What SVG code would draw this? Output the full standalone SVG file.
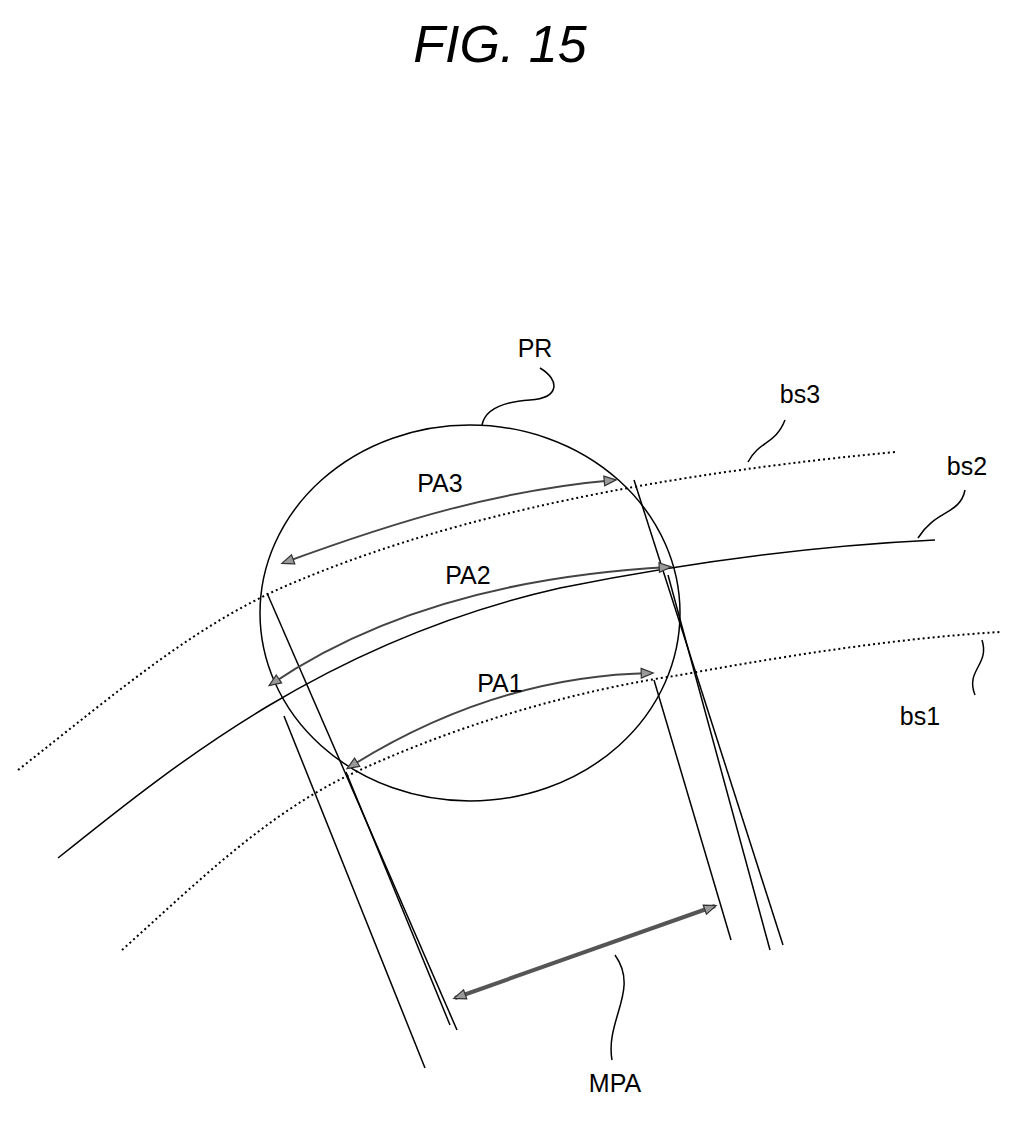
<svg xmlns="http://www.w3.org/2000/svg" width="1020" height="1141" viewBox="0 0 1020 1141">
<defs>
<style>
.l{fill:none;stroke:#000;stroke-width:1.5}
.d{fill:none;stroke:#000;stroke-width:2;stroke-dasharray:2 3}
.a{fill:none;stroke:#444;stroke-width:2}
.t{font-family:"Liberation Sans",Arial,sans-serif;font-size:25px;fill:#000}
</style>
<marker id="ah" viewBox="0 0 10 10" refX="9" refY="5" markerWidth="16" markerHeight="12" markerUnits="userSpaceOnUse" orient="auto-start-reverse"><path d="M0,1 L10,5 L0,9 Z" fill="#999" stroke="#333" stroke-width="1"/></marker>
</defs>
<rect width="1020" height="1141" fill="#fff"/>
<text x="500" y="62" style="font-family:'Liberation Sans',Arial,sans-serif;font-size:52px;font-style:italic" text-anchor="middle">FIG. 15</text>
<g id="PR"><ellipse cx="470" cy="613" rx="210" ry="188" class="l"/><text class="t" x="535" y="357" text-anchor="middle">PR</text><path class="l" d="M540,368 C560,380 560,398 530,400 C500,402 485,410 482,425"/></g>
<g id="bs3"><path class="d" d="M18,770 C120,690 200,620 300,580 C420,530 600,480 895,452"/><text class="t" x="800" y="403" text-anchor="middle">bs3</text><path class="l" d="M785,420 C775,445 760,440 748,462"/></g>
<g id="bs2"><path class="l" d="M58,858 C180,760 330,640 560,588 C700,560 830,545 935,540"/><text class="t" x="967" y="475" text-anchor="middle">bs2</text><path class="l" d="M965,490 C960,515 935,510 918,538"/></g>
<g id="bs1"><path class="d" d="M122,950 C200,880 270,810 360,770 C470,720 580,690 680,675 C790,655 900,638 1000,632"/><text class="t" x="920" y="725" text-anchor="middle">bs1</text><path class="l" d="M982,640 C990,665 965,670 975,695"/></g>
<g id="lines">
<line class="l" x1="267" y1="593" x2="457" y2="1030"/>
<line class="l" x1="284" y1="716" x2="425" y2="1068"/>
<line class="l" x1="346" y1="772" x2="450" y2="1025"/>
<line class="l" x1="634" y1="480" x2="783" y2="945"/>
<line class="l" x1="668" y1="575" x2="770" y2="950"/>
<line class="l" x1="654" y1="680" x2="731" y2="940"/>
</g>
<g id="connectors">
<path class="a" d="M283,563 C400,520 500,490 615,480" marker-start="url(#ah)" marker-end="url(#ah)"/>
<path class="a" d="M270,685 C380,610 520,575 670,567" marker-start="url(#ah)" marker-end="url(#ah)"/>
<path class="a" d="M348,768 C440,710 540,675 652,673" marker-start="url(#ah)" marker-end="url(#ah)"/>
<path stroke="#555" stroke-width="4" fill="none" d="M455,998 L715,906" marker-start="url(#ah)" marker-end="url(#ah)"/>
<path class="l" d="M615,955 C640,990 605,1020 612,1060"/>
</g>
<text class="t" x="440" y="492" text-anchor="middle">PA3</text>
<text class="t" x="468" y="584" text-anchor="middle">PA2</text>
<text class="t" x="500" y="692" text-anchor="middle">PA1</text>
<text class="t" x="615" y="1092" text-anchor="middle">MPA</text>
</svg>
